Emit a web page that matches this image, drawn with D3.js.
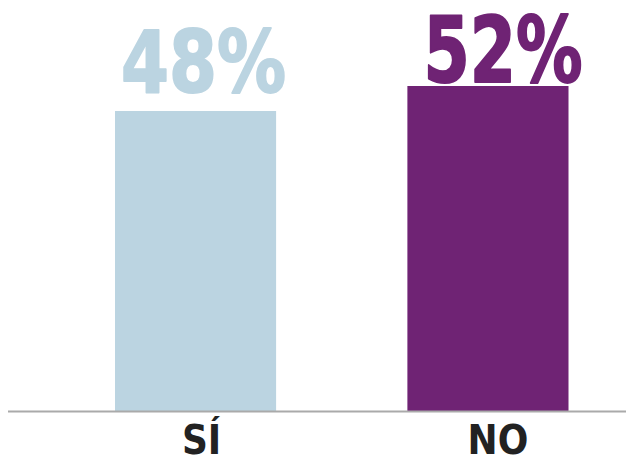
<!DOCTYPE html>
<html><head><meta charset="utf-8">
<script src="https://cdn.jsdelivr.net/npm/d3@7"></script>
<style>html,body{margin:0;padding:0;background:#fff;}svg{display:block;}</style>
</head><body>
<script>
const categories = ["SÍ", "NO"];
const values = [48, 52];
const valueLabels = ["48%", "52%"];
const colors = ["#bbd4e1", "#6f2374"];

const W = 626, H = 459;
const svg = d3.select("body").append("svg").attr("width", W).attr("height", H);

const x = d3.scaleBand().domain(categories).range([115, 568.5]).paddingInner(0.449).paddingOuter(0);
const y = d3.scaleLinear().domain([0, 48]).range([411, 111]);

svg.selectAll("rect.bar").data(values).join("rect")
  .attr("class", "bar")
  .attr("x", (d, i) => x(categories[i]))
  .attr("width", x.bandwidth())
  .attr("y", d => y(d))
  .attr("height", d => y(0) - y(d))
  .attr("fill", (d, i) => colors[i]);

const axis = d3.axisBottom(x).tickSize(0).tickPadding(0);
const g = svg.append("g").attr("transform", `translate(0,${y(0)})`).call(axis);
g.select(".domain").remove();
svg.append("line").attr("x1", 8).attr("x2", W).attr("y1", y(0) + 0.5).attr("y2", y(0) + 0.5)
  .attr("stroke", "#aaaaaa").attr("stroke-width", 2);

const catDx = [6, 10];
g.selectAll(".tick text")
  .attr("dx", (d, i) => catDx[i])
  .attr("y", 43)
  .attr("dy", 0)
  .attr("fill", "#222")
  .style("font-family", "'DejaVu Sans Condensed', 'DejaVu Sans'")
  .style("font-stretch", "condensed")
  .style("font-weight", "bold")
  .style("font-size", "40px");

const lblDx = [8, 15];
const lblDy = [19, 4];
svg.selectAll("text.val").data(values).join("text")
  .attr("class", "val")
  .attr("x", (d, i) => x(categories[i]) + x.bandwidth() / 2 + lblDx[i])
  .attr("y", (d, i) => y(d) - lblDy[i])
  .attr("text-anchor", "middle")
  .attr("fill", (d, i) => colors[i])
  .attr("stroke", (d, i) => colors[i])
  .attr("stroke-width", 2)
  .attr("stroke-linejoin", "round")
  .attr("textLength", (d, i) => i === 0 ? 165 : 159)
  .attr("lengthAdjust", "spacingAndGlyphs")
  .style("font-family", "'DejaVu Sans', sans-serif")
  .style("font-weight", "bold")
  .style("font-size", (d, i) => i === 0 ? "86px" : "90px")
  .text((d, i) => valueLabels[i]);
</script>
</body></html>
